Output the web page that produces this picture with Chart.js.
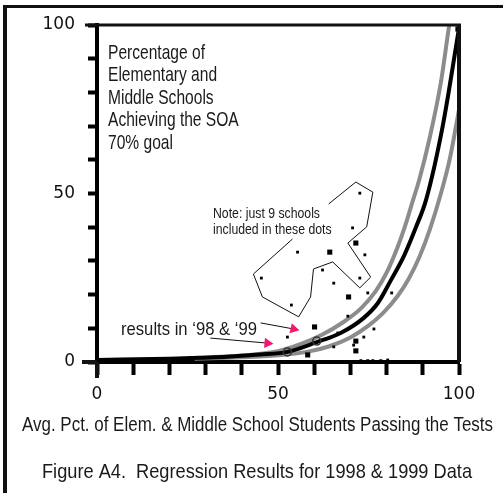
<!DOCTYPE html>
<html>
<head>
<meta charset="utf-8">
<script src="https://cdn.jsdelivr.net/npm/chart.js@4.4.1/dist/chart.umd.min.js"></script>
<style>
  html, body { margin: 0; padding: 0; background: #fff; }
  canvas { display: block; }
</style>
</head>
<body>
<canvas id="mainChart" width="503" height="493"></canvas>
<script>
var xTickLabels = [0, 50, 100],
  yTickLabels = [0, 50, 100];

// school dots (big and small squares)
var bigDotX = [71.5, 64.3, 69.5, 60.1, 71.5, 71.5, 58.2, 99.7],
  bigDotY = [35.3, 32.6, 19.3, 10.4, 6.2, 3.3, 2.1, 98.8];
var smallDotX = [72.6, 70.6, 55.4, 74.0, 62.3, 45.4, 72.6, 65.4, 74.8, 81.4, 53.7, 69.3,
    76.5, 52.6, 66.5, 73.7, 70.9, 65.4, 72.9, 74.8, 76.2, 78.4, 80.3],
  smallDotY = [50.1, 39.8, 32.6, 31.8, 27.3, 24.9, 24.9, 23.4, 20.5, 20.5, 16.9, 13.6,
    9.8, 7.4, 8.6, 7.4, 5.0, 4.5, 0.4, 0.4, 0.4, 0.4, 0.6];

// regression curve and the two grey bands
var fitX = [0, 20, 35, 45, 52.6, 60.7, 67.3, 73.7, 77.6, 81.2, 84.8, 88.1, 90.9, 95.5, 100],
  fitY = [0.6, 1.0, 1.5, 2.2, 3.0, 5.9, 8.6, 13.1, 17.5, 24.3, 31.5, 40.0, 48.1, 70, 99];
var upperX = [27, 40, 50, 56, 62, 68, 73, 77, 80, 83, 85, 87, 89, 92, 95, 97.3, 98.5],
  upperY = [1.2, 1.9, 3.2, 5.2, 8.0, 11.8, 16.0, 21.0, 26.5, 34, 40, 47, 54, 67, 83, 100, 108];
var lowerX = [27, 40, 50, 58, 64, 70, 75, 79, 83, 86, 89, 92, 95, 97.5, 100],
  lowerY = [1.0, 1.4, 2.0, 3.0, 4.6, 7.3, 10.8, 14.5, 19.5, 24.5, 31, 39.5, 50, 60.5, 74.8];

// the '98 and '99 results, and the arrows pointing at them
var resultX = [52.6, 60.7],
  resultY = [3.0, 6.2];
var arrowX = [47.1, 54.3],
  arrowY = [5.6, 9.8];
var leaderX = [31.3, 45.2],
  leaderY = [7.1, 11.6];

// outline drawn round the 9 schools
var outlineX = [64.0, 71.5, 76.2, 74.5, 69.3, 75.6, 72.6, 65.1, 59.8, 59.0, 55.7, 45.7, 43.2, 54.0],
  outlineY = [46.9, 53.4, 50.4, 40.1, 35.3, 25.2, 22.0, 29.7, 27.6, 19.3, 13.4, 19.3, 26.1, 36.5];

function pairs (xs, ys) {
  return xs.map(function (x, i) { return {x: x, y: ys[i]}; });
}

function line (ctx, x1, y1, x2, y2, w) {
  ctx.lineWidth = w;
  ctx.beginPath();
  ctx.moveTo(x1, y1);
  ctx.lineTo(x2, y2);
  ctx.stroke();
}

// narrow type: Liberation Sans squeezed to the width seen in the picture
function narrowScale (ctx, text, size, width) {
  ctx.font = size + 'px "Liberation Sans", Arial, sans-serif';
  return width / ctx.measureText(text).width;
}

function narrowText (ctx, text, x, y, size, k, align) {
  ctx.save();
  ctx.font = size + 'px "Liberation Sans", Arial, sans-serif';
  ctx.textAlign = align || 'left';
  ctx.textBaseline = 'alphabetic';
  ctx.translate(x, y);
  ctx.scale(k, 1);
  ctx.fillText(text, 0, 0);
  ctx.restore();
}

var frame = {
  id: 'frame',
  afterDraw: function (chart) {
    var ctx = chart.ctx,
      area = chart.chartArea,
      k, i;

    ctx.save();
    ctx.strokeStyle = '#111';
    ctx.lineCap = 'butt';
    // page border
    line(ctx, 3, 6.5, 503, 6.5, 3);
    line(ctx, 5, 5, 5, 493, 4);
    // top and right edge of the plot, stubs at 0 and 100
    line(ctx, 85, area.top, area.right + 2, area.top, 3);
    line(ctx, area.right, area.top, area.right, area.bottom, 4);
    line(ctx, 82, area.bottom, area.left, area.bottom, 4);
    line(ctx, area.left, area.bottom, area.left, area.bottom + 16, 4);

    ctx.fillStyle = '#1a1a1a';
    var block = ['Percentage of', 'Elementary and', 'Middle Schools', 'Achieving the SOA', '70% goal'];
    k = narrowScale(ctx, block[0], 21, 97);
    for (i = 0; i < block.length; i++) {
      narrowText(ctx, block[i], 108, 58.5 + i * 22.5, 21, k);
    }

    var note = ['Note: just 9 schools', 'included in these dots'];
    k = narrowScale(ctx, note[0], 14, 107);
    for (i = 0; i < note.length; i++) {
      narrowText(ctx, note[i], 213, 218 + i * 16, 14, k);
    }

    var res = 'results in \u201898 & \u201899';
    narrowText(ctx, res, 121, 335, 19, narrowScale(ctx, res, 19, 136));

    var xTitle = 'Avg. Pct. of Elem. & Middle School Students Passing the Tests';
    narrowText(ctx, xTitle, 257.5, 430.5, 20.5, narrowScale(ctx, xTitle, 20.5, 471), 'center');

    var caption = 'Figure A4.  Regression Results for 1998 & 1999 Data';
    narrowText(ctx, caption, 257, 478, 21, narrowScale(ctx, caption, 21, 430), 'center');
    ctx.restore();
  }
};

var ctx = document.getElementById('mainChart'),
  myChart;

function curve (data, color, order) {
  return {
    data: data,
    showLine: true,
    borderColor: color,
    borderWidth: 4,
    pointRadius: 0,
    pointHoverRadius: 0,
    cubicInterpolationMode: 'monotone',
    order: order
  };
}

function thin (data) {
  return {
    data: data,
    showLine: true,
    borderColor: '#111',
    borderWidth: 1,
    pointRadius: 0,
    pointHoverRadius: 0,
    tension: 0,
    order: 4
  };
}

function draw () {
  var leaders = leaderX.map(function (x, i) {
    return thin([{x: x, y: leaderY[i]}, {x: arrowX[i], y: arrowY[i]}]);
  });

  myChart = new Chart(ctx, {
    type: 'scatter',
    data: {
      datasets: [{
        label: 'Results',
        data: pairs(resultX, resultY),
        pointStyle: 'circle',
        pointRadius: 4,
        pointBorderWidth: 1.5,
        pointBorderColor: '#333',
        pointBackgroundColor: 'rgba(0,0,0,0)',
        clip: false,
        order: 0
      }, {
        label: 'Arrows',
        data: pairs(arrowX, arrowY),
        pointStyle: 'triangle',
        pointRadius: 6,
        pointRotation: [95, 103],
        pointBackgroundColor: '#f5176e',
        pointBorderWidth: 0,
        clip: false,
        order: 0
      }, {
        label: 'Schools',
        data: pairs(bigDotX, bigDotY),
        pointStyle: 'rect',
        pointRadius: 3.6,
        pointBackgroundColor: '#000',
        pointBorderWidth: 0,
        clip: false,
        order: 1
      }, {
        label: 'Schools small',
        data: pairs(smallDotX, smallDotY),
        pointStyle: 'rect',
        pointRadius: 2,
        pointBackgroundColor: '#000',
        pointBorderWidth: 0,
        clip: false,
        order: 1
      },
      curve(pairs(fitX, fitY), '#000', 2),
      curve(pairs(upperX, upperY), '#8c8c8c', 3),
      curve(pairs(lowerX, lowerY), '#8c8c8c', 3),
      thin(pairs(outlineX, outlineY))
      ].concat(leaders)
    },
    options: {
      responsive: false,
      animation: false,
      layout: {
        padding: {left: 0, top: 25, right: 44, bottom: 0}
      },
      plugins: {
        legend: {display: false},
        tooltip: {enabled: false}
      },
      scales: {
        x: {
          type: 'linear',
          min: 0,
          max: 100,
          afterFit: function (s) { s.height = 131; },
          border: {display: true, color: '#000', width: 4},
          grid: {drawOnChartArea: false, tickLength: 13, tickWidth: 4, tickColor: '#000'},
          ticks: {
            stepSize: 10,
            autoSkip: false,
            maxRotation: 0,
            padding: 9,
            color: '#111',
            font: {family: 'DejaVu Sans', size: 17},
            callback: function (v) { return xTickLabels.indexOf(v) >= 0 ? String(v) : ''; }
          }
        },
        y: {
          type: 'linear',
          min: 0,
          max: 100,
          afterFit: function (s) { s.width = 97; },
          border: {display: true, color: '#000', width: 4},
          grid: {drawOnChartArea: false, tickLength: 9, tickWidth: 4, tickColor: '#000'},
          ticks: {
            stepSize: 10,
            autoSkip: false,
            padding: 13,
            color: '#111',
            font: {family: 'DejaVu Sans', size: 17},
            callback: function (v) { return yTickLabels.indexOf(v) >= 0 ? String(v) : ''; }
          }
        }
      }
    },
    plugins: [frame]
  });
}

draw();
</script>
</body>
</html>
